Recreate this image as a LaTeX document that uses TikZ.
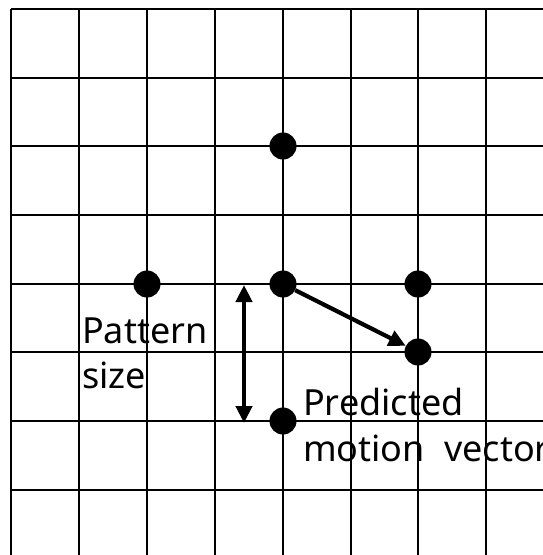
\documentclass[tikz,border=0pt]{standalone}
\usepackage{fontspec}
\setmainfont{Noto Sans}
\usetikzlibrary{arrows.meta}
\begin{document}
\begin{tikzpicture}[x=1pt,y=-1pt,
  gridline/.style={line width=2pt,black},
  dot/.style={circle,fill=black,inner sep=0pt,minimum size=27pt},
  lbl/.style={anchor=base west,inner sep=0pt,font=\fontsize{36}{42}\selectfont},
  thick arrow/.style={line width=4.2pt,-{Triangle[length=17pt,width=16pt]}}]
\useasboundingbox (0,0) rectangle (542,555);
\fill[white] (0,0) rectangle (542,555);
\foreach \x in {11,79,147,215,283,351,418,486} \draw[gridline] (\x,9) -- (\x,556);
\foreach \y in {9,77.5,146,215,284,352,421,490} \draw[gridline] (11,\y) -- (543,\y);
\node[dot] (top) at (283,146) {};
\node[dot] (left) at (147,284) {};
\node[dot] (c) at (283,284) {};
\node[dot] (right) at (418,284) {};
\node[dot] (pred) at (418,352) {};
\node[dot] (bot) at (283,421) {};
\coordinate (s1) at (244,285);
\coordinate (s2) at (244,423);
\draw[thick arrow] (c) -- (pred);
\draw[line width=4.2pt,{Triangle[length=17pt,width=16pt]}-{Triangle[length=17pt,width=16pt]}] (s1) -- (s2);
\node[lbl] (p1) at (82,343) {Pattern};
\node[lbl] (p2) at (82,388) {size};
\node[lbl] (m1) at (303,415) {Predicted};
\node[lbl] (m2) at (303,461) {motion\hspace{10pt} vector};
\end{tikzpicture}
\end{document}
